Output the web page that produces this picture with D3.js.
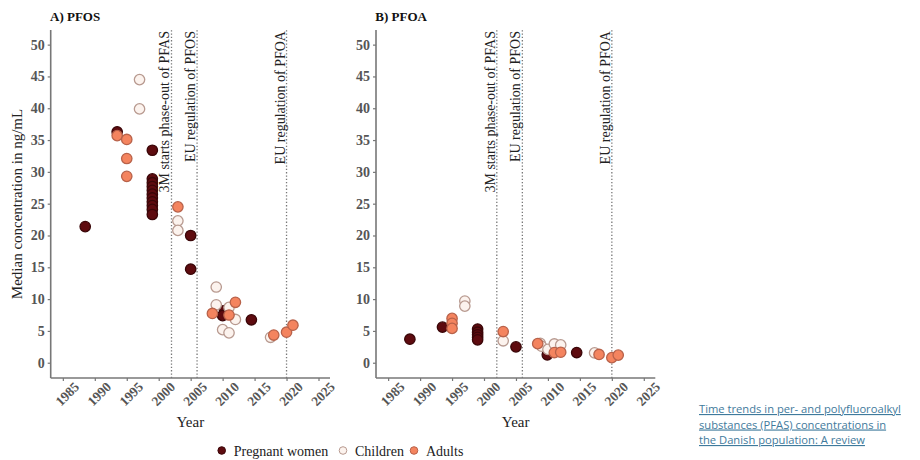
<!DOCTYPE html>
<html>
<head>
<meta charset="utf-8">
<script src="https://cdn.jsdelivr.net/npm/d3@7"></script>
<style>
  body { margin: 0; background: #fff; }
  svg { display: block; }
  .link { font-family: "Open Sans", "Noto Sans", sans-serif; font-size: 11.2px; fill: #3f7a9c; }
</style>
</head>
<body>
<svg id="chart" width="920" height="460"></svg>
<script>
// groups / colours
const groups = ["Pregnant women", "Children", "Adults"];
const fills = ["#5e0b0f", "#fcf3ee", "#f4845f"];
const strokes = ["#3a0608", "#b89a90", "#b8624a"];

// events (vertical dotted lines)
const eventYears = [2002, 2006, 2020];
const eventLabels = ["3M starts phase-out of PFAS", "EU regulation of PFOS", "EU regulation of PFOA"];

const xTicks = [1985, 1990, 1995, 2000, 2005, 2010, 2015, 2020, 2025];
const yTicks = [0, 5, 10, 15, 20, 25, 30, 35, 40, 45, 50];

// A) PFOS
const pfosPregYear = [1988.5, 1993.5, 1999, 1999, 1999, 1999, 1999, 1999, 1999, 1999, 1999, 1999, 1999, 2005, 2005, 2010.3, 2010, 2014.5];
const pfosPregVal  = [21.4, 36.3, 33.4, 28.9, 28.3, 27.7, 27.1, 26.5, 25.9, 25.3, 24.7, 24.1, 23.3, 20.0, 14.7, 8.2, 7.4, 6.75];
const pfosChildYear = [1997, 1997, 2003, 2003, 2009, 2009, 2011, 2012, 2010, 2011, 2017.5];
const pfosChildVal  = [44.5, 39.9, 22.3, 20.8, 11.9, 9.1, 8.7, 6.8, 5.2, 4.7, 4.0];
const pfosAdultYear = [1993.5, 1995, 1995, 1995, 2003, 2008.4, 2011, 2012, 2018, 2020, 2021];
const pfosAdultVal  = [35.7, 35.1, 32.1, 29.3, 24.5, 7.75, 7.5, 9.5, 4.35, 4.8, 5.9];

// B) PFOA
const pfoaPregYear = [1988.4, 1993.5, 1999, 1999, 1999, 1999, 1999, 2005, 2009.9, 2014.5];
const pfoaPregVal  = [3.7, 5.6, 5.3, 4.8, 4.4, 4.0, 3.6, 2.5, 1.25, 1.6];
const pfoaChildYear = [1997, 1997, 2003, 2008.8, 2009, 2010, 2011, 2012, 2017.3];
const pfoaChildVal  = [9.7, 8.9, 3.45, 3.05, 2.6, 2.1, 2.95, 2.8, 1.55];
const pfoaAdultYear = [1995, 1995, 1995, 2003, 2008.4, 2011, 2012, 2018, 2020, 2021];
const pfoaAdultVal  = [6.97, 6.2, 5.4, 4.9, 3.0, 1.6, 1.65, 1.3, 0.8, 1.2];

const panels = [
  { title: "A) PFOS", dx: 0,
    series: [[pfosPregYear, pfosPregVal], [pfosChildYear, pfosChildVal], [pfosAdultYear, pfosAdultVal]] },
  { title: "B) PFOA", dx: 325.3,
    series: [[pfoaPregYear, pfoaPregVal], [pfoaChildYear, pfoaChildVal], [pfoaAdultYear, pfoaAdultVal]] }
];

const svg = d3.select("#chart");
const serif = "'Liberation Serif', 'DejaVu Serif', serif";

const x = d3.scaleLinear().domain([1983.1, 2026.8]).range([50.7, 330]);
const y = d3.scaleLinear().domain([-2.4, 52.3]).range([378, 30]);

for (const p of panels) {
  const g = svg.append("g").attr("transform", `translate(${p.dx},0)`);

  g.append("text")
    .attr("x", 50).attr("y", 21)
    .attr("font-family", serif).attr("font-weight", "bold").attr("font-size", 13)
    .attr("fill", "#111")
    .text(p.title);

  // axes
  const yAxis = g.append("g").attr("transform", `translate(${x.range()[0]},0)`)
    .call(d3.axisLeft(y).tickValues(yTicks).tickSize(3).tickPadding(3));
  yAxis.select(".domain").attr("d", `M0,${y.range()[0]}V${y.range()[1]}`);

  const xAxis = g.append("g").attr("transform", `translate(0,${y.range()[0]})`)
    .call(d3.axisBottom(x).tickValues(xTicks).tickFormat(d3.format("d")).tickSize(3));
  xAxis.select(".domain").attr("d", `M${x.range()[0]},0H${x.range()[1]}`);
  xAxis.selectAll("text")
    .attr("text-anchor", "middle")
    .attr("dy", null)
    .attr("transform", "translate(3,15) rotate(-45)");

  g.selectAll(".domain").attr("stroke", "#777").attr("stroke-width", 1.6);
  g.selectAll(".tick line").attr("stroke", "#777").attr("stroke-width", 1.2);
  g.selectAll(".tick text")
    .attr("font-family", serif).attr("font-weight", "bold").attr("font-size", 13.5)
    .attr("fill", "#555");
  yAxis.selectAll("text").attr("font-size", 14);

  // event lines
  g.selectAll(".evt").data(eventYears).enter().append("line")
    .attr("x1", d => x(d)).attr("x2", d => x(d))
    .attr("y1", y.range()[0]).attr("y2", 30)
    .attr("stroke", "#777").attr("stroke-width", 1.3)
    .attr("stroke-dasharray", "1.3,2");
  g.selectAll(".evtlab").data(eventYears).enter().append("text")
    .attr("transform", d => `translate(${x(d) - 2},31) rotate(-90)`)
    .attr("text-anchor", "end")
    .attr("font-family", serif).attr("font-size", 14).attr("fill", "#222")
    .text((d, i) => eventLabels[i]);

  // points
  p.series.forEach((s, gi) => {
    g.selectAll(".pt" + gi).data(d3.range(s[0].length)).enter().append("circle")
      .attr("cx", i => x(s[0][i]))
      .attr("cy", i => y(s[1][i]))
      .attr("r", 5.2)
      .attr("fill", fills[gi])
      .attr("stroke", strokes[gi])
      .attr("stroke-width", 1.3);
  });

  g.append("text")
    .attr("x", (x.range()[0] + x.range()[1]) / 2).attr("y", 427)
    .attr("text-anchor", "middle")
    .attr("font-family", serif).attr("font-size", 15).attr("fill", "#222")
    .text("Year");
}

svg.append("text")
  .attr("transform", `translate(22,${(y.range()[0] + y.range()[1]) / 2}) rotate(-90)`)
  .attr("text-anchor", "middle")
  .attr("font-family", serif).attr("font-size", 15).attr("fill", "#222")
  .text("Median concentration in ng/mL");

// legend
const legX = [221.7, 343, 414];
const leg = svg.append("g");
groups.forEach((name, i) => {
  leg.append("circle").attr("cx", legX[i]).attr("cy", 450.5).attr("r", 3.8)
    .attr("fill", fills[i]).attr("stroke", strokes[i]).attr("stroke-width", 1);
  leg.append("text").attr("x", legX[i] + 12).attr("y", 455.5)
    .attr("font-family", serif).attr("font-size", 14).attr("fill", "#222")
    .text(name);
});

// caption link
const linkLines = ["Time trends in per- and polyfluoroalkyl", "substances (PFAS) concentrations in", "the Danish population: A review"];
svg.selectAll(".link").data(linkLines).enter().append("text")
  .attr("class", "link")
  .attr("x", 699).attr("y", (d, i) => 413 + i * 15.5)
  .attr("text-decoration", "underline")
  .text(d => d);
</script>
</body>
</html>
